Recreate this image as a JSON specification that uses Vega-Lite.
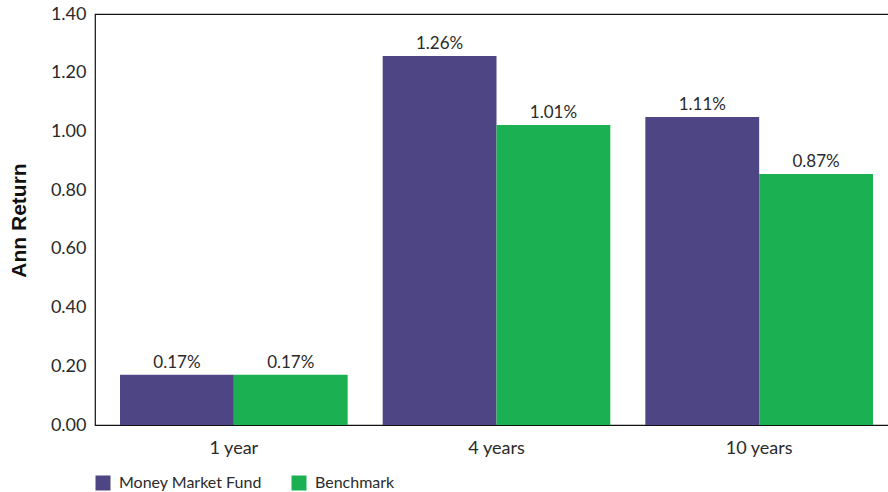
{
  "$schema": "https://vega.github.io/schema/vega-lite/v6.json",
  "autosize": {"type": "none"},
  "padding": {"left": 95, "top": 14, "right": 0, "bottom": 67},
  "width": 803,
  "height": 411,
  "background": "white",
  "config": {
    "font": "Lato",
    "view": {"stroke": "#111", "strokeWidth": 1.2},
    "axis": {"grid": false, "ticks": false, "domain": false, "labelColor": "#2a2a2a", "labelFont": "Lato", "titleFont": "Liberation Sans"}
  },
  "data": {
    "values": [
      {"period": "1 year", "series": "Money Market Fund", "value": 0.171, "label": "0.17%"},
      {"period": "1 year", "series": "Benchmark", "value": 0.171, "label": "0.17%"},
      {"period": "4 years", "series": "Money Market Fund", "value": 1.257, "label": "1.26%"},
      {"period": "4 years", "series": "Benchmark", "value": 1.022, "label": "1.01%"},
      {"period": "10 years", "series": "Money Market Fund", "value": 1.049, "label": "1.11%"},
      {"period": "10 years", "series": "Benchmark", "value": 0.855, "label": "0.87%"}
    ]
  },
  "encoding": {
    "x": {
      "field": "period", "type": "nominal", "sort": ["1 year", "4 years", "10 years"],
      "scale": {"paddingInner": 0.1333, "paddingOuter": 0.0952},
      "axis": {"title": null, "labelAngle": 0, "labelFontSize": 18, "labelPadding": 14}
    },
    "xOffset": {"field": "series", "type": "nominal", "sort": ["Money Market Fund", "Benchmark"], "scale": {"paddingInner": 0, "paddingOuter": 0}},
    "y": {
      "field": "value", "type": "quantitative",
      "scale": {"domain": [0, 1.4], "nice": false},
      "axis": {"title": "Ann Return", "values": [0, 0.2, 0.4, 0.6, 0.8, 1.0, 1.2, 1.4], "format": ".2f", "labelFontSize": 18, "labelPadding": 9, "titleFontSize": 21, "titleFontWeight": "bold", "titleColor": "#111", "titleX": -66, "titleY": 206}
    }
  },
  "layer": [
    {
      "mark": {"type": "bar"},
      "encoding": {
        "color": {
          "field": "series", "type": "nominal",
          "scale": {"domain": ["Money Market Fund", "Benchmark"], "range": ["#4E4585", "#1BB152"]},
          "legend": {
            "title": null, "orient": "none", "direction": "horizontal", "legendX": 0, "legendY": 461,
            "symbolType": "square", "symbolSize": 225, "symbolStrokeWidth": 0, "symbolOpacity": 1,
            "labelFontSize": 16, "labelColor": "#2a2a2a", "labelOffset": 8, "columnPadding": 29, "labelLimit": 300
          }
        }
      }
    },
    {
      "mark": {"type": "text", "baseline": "alphabetic", "dy": -7, "fontSize": 17, "color": "#2a2a2a"},
      "encoding": {"text": {"field": "label", "type": "nominal"}}
    }
  ]
}
